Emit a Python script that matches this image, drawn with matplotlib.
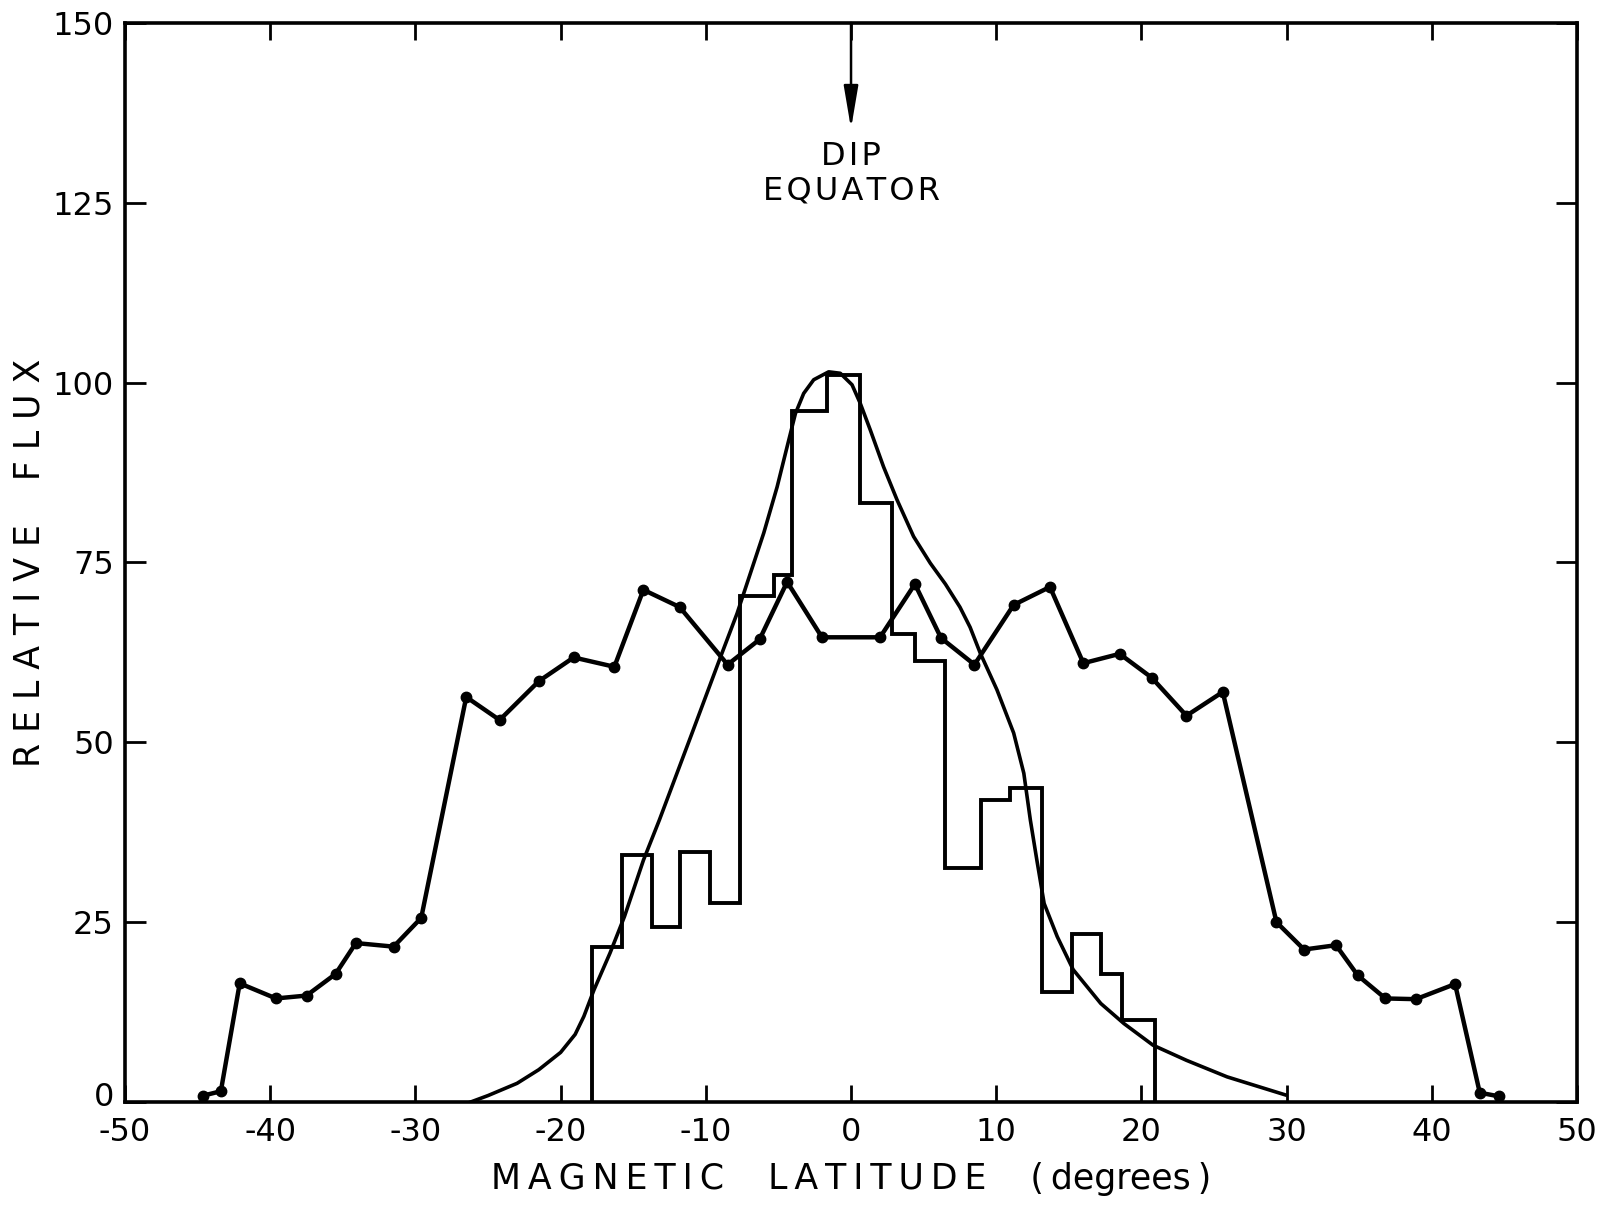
import numpy as np
import matplotlib.pyplot as plt
import matplotlib.transforms as mtransforms

# 带点的折线（数据读自原图）
dot_lat = [-44.6, -43.4, -42.1, -39.6, -37.5, -35.5, -34.1, -31.5, -29.6, -26.5,
           -24.2, -21.5, -19.1, -16.3, -14.3, -11.8, -8.5, -6.3, -4.4, -2.0,
           2.0, 4.4, 6.2, 8.5, 11.2, 13.7, 16.0, 18.5, 20.7, 23.1,
           25.6, 29.3, 31.2, 33.4, 34.9, 36.8, 38.9, 41.6, 43.3, 44.6]
dot_flux = [0.9, 1.5, 16.5, 14.4, 14.8, 17.8, 22.1, 21.6, 25.6, 56.3,
            53.1, 58.5, 61.8, 60.5, 71.2, 68.8, 60.8, 64.3, 72.3, 64.6,
            64.6, 72.0, 64.5, 60.8, 69.1, 71.6, 61.0, 62.3, 59.0, 53.7,
            57.0, 25.0, 21.2, 21.8, 17.6, 14.4, 14.3, 16.4, 1.3, 0.8]

# 直方图（阶梯）
hist_edges = [-17.83, -15.76, -13.70, -11.75, -9.68, -7.62, -5.33, -4.06, -1.65, 0.64,
              2.82, 4.43, 6.49, 8.95, 10.96, 13.13, 15.21, 17.21, 18.69, 20.94]
hist_flux = [21.6, 34.4, 24.4, 34.8, 27.7, 70.3, 73.2, 96.1, 101.1, 83.3,
             65.0, 61.3, 32.5, 42.0, 43.7, 15.3, 23.4, 17.8, 11.4]

# 平滑曲线（逐点读取）
curve_lat = [-26.2, -25.0, -23.0, -21.5, -20.0, -19.0, -18.4, -17.7, -16.6, -15.6,
             -14.3, -13.2, -11.0, -9.0, -7.85, -6.93, -6.01, -5.09, -4.40, -3.83,
             -3.26, -2.57, -1.54, -0.74, 0.07, 0.64, 1.33, 2.24, 3.17, 4.31,
             5.46, 6.5, 7.5, 8.2, 8.9, 10.05, 11.2, 11.9, 12.35, 12.8,
             13.3, 14.2, 15.3, 17.2, 18.8, 20.8, 23.1, 25.9, 29.9]
curve_flux = [0.0, 0.9, 2.6, 4.5, 6.9, 9.4, 11.9, 15.6, 20.7, 25.8,
              33.6, 39.2, 51.0, 61.8, 67.9, 73.5, 79.1, 85.5, 91.1, 95.7,
              98.5, 100.4, 101.5, 101.3, 99.7, 97.1, 93.4, 88.3, 83.7, 78.6,
              74.9, 72.0, 68.8, 66.0, 62.4, 57.3, 51.3, 45.7, 39.2, 33.6,
              27.6, 23.0, 18.4, 13.7, 10.9, 7.9, 5.8, 3.5, 1.0]

x_ticks = [-50, -40, -30, -20, -10, 0, 10, 20, 30, 40, 50]
y_ticks = [0, 25, 50, 75, 100, 125, 150]

plt.rcParams['font.family'] = ['DejaVu Sans']

fig = plt.figure(figsize=(16.15, 12.06), dpi=100)
ax = fig.add_axes([0.0774, 0.0862, 0.8991, 0.8948])

ax.plot(dot_lat, dot_flux, color='black', lw=3.2, marker='o', ms=7.5, solid_joinstyle='round')
ax.stairs(hist_flux, hist_edges, baseline=0, color='black', lw=2.8)
ax.plot(curve_lat, curve_flux, color='black', lw=2.6, solid_joinstyle='round')

# 磁赤道箭头
ax.annotate('', xy=(0, 135.3), xytext=(0, 150),
            arrowprops=dict(arrowstyle='-|>,head_length=1.3,head_width=0.22',
                            color='black', lw=1.8, mutation_scale=20, shrinkA=0, shrinkB=0))
ax.text(0, 131.4, '\u200a'.join('DIP'), ha='center', va='center', fontsize=23)
ax.text(0, 126.6, '\u200a'.join('EQUATOR'), ha='center', va='center', fontsize=23)

ax.set_xlim(-50, 50)
ax.set_ylim(0, 150)
ax.set_xticks(x_ticks)
ax.set_yticks(y_ticks)
ax.set_xticklabels([str(t) for t in x_ticks])
ax.set_yticklabels([str(t) for t in y_ticks])
ax.tick_params(axis='both', which='major', direction='in', width=2, length=15,
               labelsize=23, top=True, right=True, pad=11, colors='black')
ax.tick_params(axis='x', which='major', length=12)
ax.tick_params(axis='y', which='major', pad=8)
for s in ax.spines.values():
    s.set_linewidth(2.6)

# 把 y 轴的 "0" 稍微上移，避免和 "-50" 挤在一起
lab0 = ax.get_yticklabels()[0]
lab0.set_transform(lab0.get_transform() + mtransforms.ScaledTranslation(0, 6 / 72, fig.dpi_scale_trans))

xl = '\u2009'.join('MAGNETIC') + '    ' + '\u2009'.join('LATITUDE') + '    (\u2009degrees\u2009)'
ax.set_xlabel(xl, fontsize=25, labelpad=10)
yl = ' '.join('RELATIVE') + '    ' + ' '.join('FLUX')
ax.set_ylabel(yl, fontsize=25)
ax.yaxis.set_label_coords(-0.054, 0.5)

plt.savefig('out.png', dpi=100)
